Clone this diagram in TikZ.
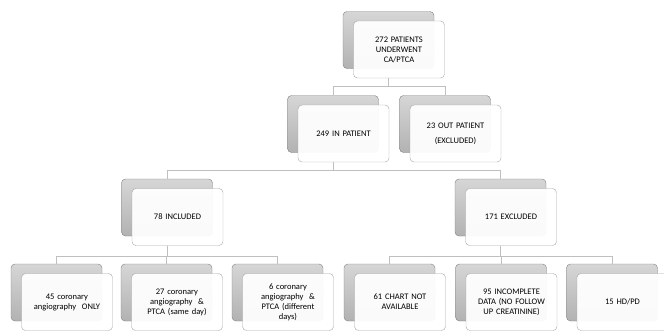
\documentclass[tikz,border=0pt]{standalone}
\usepackage{fontspec}
\setmainfont{Carlito}
\usepackage{tikz}
\usetikzlibrary{positioning}
\definecolor{backtop}{HTML}{D6D6D6}
\definecolor{backbot}{HTML}{B2B2B2}
\definecolor{backline}{HTML}{808080}
\definecolor{frontline}{HTML}{A6A6A6}
\definecolor{linkline}{HTML}{BFBFBF}
\tikzset{
  backbox/.style={draw=backline, top color=backtop, bottom color=backbot,
    rounded corners=4pt, minimum width=91pt, minimum height=57pt, inner sep=0pt},
  frontbox/.style={draw=frontline, fill=white, fill opacity=0.94, text opacity=1,
    rounded corners=4pt, minimum width=91pt, minimum height=57pt, inner sep=2pt,
    text width=86pt, align=center, font=\fontsize{8.5}{10}\selectfont},
  link/.style={draw=linkline, line width=0.9pt}
}
% one box = grey card behind + white card in front
\newcommand{\card}[3]{%
  \node[backbox] (#1B) at (#2) {};
  \node[frontbox] (#1) at ([shift={(10.5,9.5)}]#1B) {#3};}

\begin{document}
\begin{tikzpicture}[x=1pt, y=-1pt]
\useasboundingbox (0,0) rectangle (664,335);

\card{all}{388.5,40}{272 PATIENTS\\UNDERWENT\\CA/PTCA}
\card{inpat}{333,124}{249 IN PATIENT}
\card{outpat}{445,124}{23 OUT PATIENT\\[5pt](EXCLUDED)}
\card{incl}{167,207.5}{78 INCLUDED}
\card{excl}{500.5,207.5}{171 EXCLUDED}
\card{caonly}{56.5,292.5}{45 coronary\\angiography\ \ ONLY}
\card{same}{166.5,292.5}{27 coronary\\angiography\ \ \&\\PTCA (same day)}
\card{diff}{277.5,292.5}{6 coronary\\angiography\ \ \&\\PTCA (different\\days)}
\card{chart}{389.5,292.5}{61 CHART NOT\\AVAILABLE}
\card{incomp}{501,292.5}{95 INCOMPLETE\\DATA (NO FOLLOW\\UP CREATININE)}
\card{hdpd}{612,292.5}{15 HD/PD}

\draw[link] (allB |- all.south) -- ++(0,8.5) -| (inpatB.north);
\draw[link] (allB |- all.south) -- ++(0,8.5) -| (outpatB.north);
\draw[link] (inpatB |- inpat.south) -- ++(0,8.5) -| (inclB.north);
\draw[link] (inpatB |- inpat.south) -- ++(0,8.5) -| (exclB.north);
\draw[link] (inclB |- incl.south) -- ++(0,11) -| (caonlyB.north);
\draw[link] (inclB |- incl.south) -- ++(0,11) -| (sameB.north);
\draw[link] (inclB |- incl.south) -- ++(0,11) -| (diffB.north);
\draw[link] (exclB |- excl.south) -- ++(0,11) -| (chartB.north);
\draw[link] (exclB |- excl.south) -- ++(0,11) -| (incompB.north);
\draw[link] (exclB |- excl.south) -- ++(0,11) -| (hdpdB.north);
\end{tikzpicture}
\end{document}
